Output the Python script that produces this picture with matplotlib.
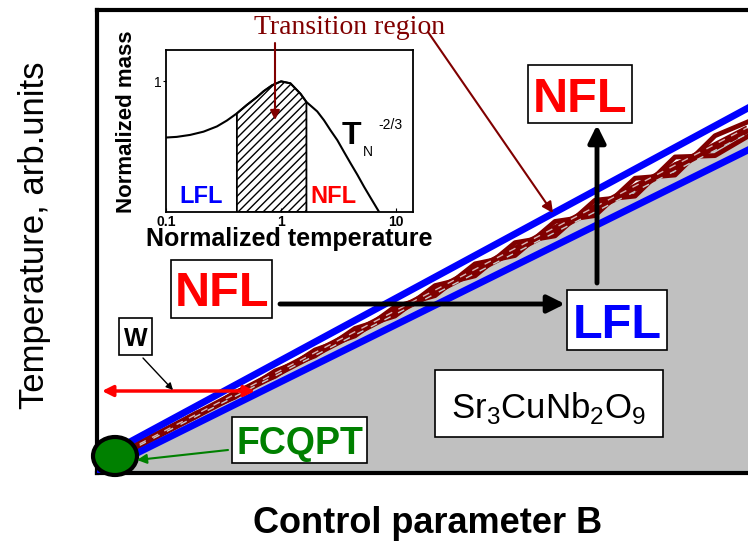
import matplotlib
matplotlib.use('Agg')
import matplotlib.pyplot as plt
from matplotlib.patches import Ellipse, Rectangle
import numpy as np

plt.rcParams['font.family'] = ['Liberation Sans', 'DejaVu Sans']
plt.rcParams['mathtext.fontset'] = 'custom'
plt.rcParams['mathtext.rm'] = 'Liberation Sans'
plt.rcParams['hatch.linewidth'] = 1.0

# phase diagram: crossover lines T(B) = t0 + slope * B (arb. units)
B_ends = [0, 633]
T_upper = [6, 348]
T_lower = [-8, 306]

# braided transition band, offsets as fraction of the half width
B_braid = [0, 40, 80, 120, 160, 200, 240, 280, 320, 360, 400, 440, 480, 520, 560, 600, 633]
braid_a = [0, 0.3, -0.25, 0.35, -0.3, 0.4, -0.35, 0.5, -0.4, 0.55, -0.45, 0.55, -0.5, 0.6, -0.5, 0.6, 0.4]
braid_b = [0, -0.3, 0.3, -0.35, 0.4, -0.3, 0.45, -0.4, 0.5, -0.45, 0.55, -0.5, 0.55, -0.55, 0.6, -0.55, -0.4]

# inset: normalized effective mass vs normalized temperature
temp_norm = [0.100, 0.124, 0.162, 0.212, 0.277, 0.338, 0.413, 0.505, 0.618, 0.706,
             0.835, 1.0, 1.205, 1.475, 1.66, 2.06, 2.36, 2.69, 3.08, 3.52,
             4.02, 4.60, 5.26, 6.01, 7.11]
mass_norm = [0.570, 0.575, 0.590, 0.615, 0.655, 0.700, 0.755, 0.820, 0.880, 0.925,
             0.970, 1.0, 0.985, 0.905, 0.842, 0.770, 0.702, 0.625, 0.55, 0.46,
             0.372, 0.285, 0.193, 0.107, 0.0]
hatch_lo, hatch_hi = 0.413, 1.66

blue = '#0000ff'
red = '#ff0000'
green = '#008000'
maroon = '#800000'

fig = plt.figure(figsize=(7.48, 5.45), dpi=100)
ax = fig.add_axes([97/748, 72/545, 660/748, 463/545])
ax.set_xlim(-18, 642)
ax.set_ylim(-17, 446)
ax.set_xticks([])
ax.set_yticks([])
for s in ['left', 'top', 'bottom']:
    ax.spines[s].set_linewidth(3)
ax.spines['right'].set_visible(False)

B = np.array(B_ends, dtype=float)
up = np.array(T_upper, dtype=float)
lo = np.array(T_lower, dtype=float)
slope_u = (up[1] - up[0]) / (B[1] - B[0])
slope_l = (lo[1] - lo[0]) / (B[1] - B[0])
Bf = np.array([-18.0, 642.0])
lo_f = lo[0] + slope_l * Bf
up_f = up[0] + slope_u * Bf
ax.fill_between(Bf, -17, lo_f, color='#c0c0c0', lw=0, zorder=1)
ax.axhline(-14.5, color='#80ffff', lw=0.8, zorder=1.5)

# band
Bb = np.array(B_braid, dtype=float)
mid = (up[0] + lo[0]) / 2 + (slope_u + slope_l) / 2 * Bb
half = (up[0] - lo[0]) / 2 + (slope_u - slope_l) / 2 * Bb - 3
ax.fill_between(Bb, mid - 1.2 * half, mid, color='#c8c8c8', lw=0, zorder=1.8)
ax.plot(Bb, mid, color=maroon, lw=5.5, zorder=2, solid_capstyle='butt')
ax.plot(Bb, mid + np.array(braid_a) * half, color=maroon, lw=3.5, zorder=2)
ax.plot(Bb, mid + np.array(braid_b) * half, color=maroon, lw=3.5, zorder=2)
ax.plot(Bb, mid + 0.3 * np.array(braid_b) * half, color=maroon, lw=2.5, zorder=2)
ax.plot(Bb, mid + 0.1 * half, color='white', lw=1, ls=(0, (5, 5)), zorder=2.2, alpha=0.7)
ax.plot(Bb, mid - 0.25 * half, color='#c8c8c8', lw=1, ls=(2, (5, 6)), zorder=2.2)
ax.plot(Bf, up_f, color=blue, lw=5, zorder=3)
ax.plot(Bf, lo_f, color=blue, lw=5, zorder=3)

# FCQPT point
ax.add_patch(Ellipse((0, 0), 44, 38, fc=green, ec='black', lw=3, zorder=6, clip_on=False))


def box(x0, y0, w, h, text, color, size, weight='bold'):
    ax.add_patch(Rectangle((x0, y0), w, h, fc='white', ec='black', lw=1.2, zorder=5))
    ax.text(x0 + w / 2, y0 + h / 2, text, color=color, fontsize=size, weight=weight,
            ha='center', va='center_baseline', zorder=6)


box(4, 101, 33, 37, 'W', 'black', 18)
box(117, -7, 135, 46, 'FCQPT', green, 27)
box(320, 19, 228, 67, r'Sr$_{3}$CuNb$_{2}$O$_{9}$', 'black', 25, 'normal')
box(452, 106, 100, 60, 'LFL', blue, 35)
box(413, 333, 104, 58, 'NFL', red, 35)
box(56, 138, 101, 58, 'NFL', red, 35)


def arrow(start, tip, color, lw, ms, style='-|>'):
    ax.annotate('', xy=tip, xytext=start, zorder=7,
                arrowprops=dict(arrowstyle=style, color=color, lw=lw, mutation_scale=ms,
                                shrinkA=0, shrinkB=0), annotation_clip=False)


arrow((-13, 65), (140, 65), red, 2.5, 16, '<|-|>')
arrow((28, 98), (58, 66), 'black', 1.0, 10)
arrow((113, 6), (22, -4), green, 1.5, 14)
arrow((165, 152), (450, 152), 'black', 3.5, 26)
arrow((482, 173), (482, 331), 'black', 3.5, 26)
arrow((313, 424), (438, 243), maroon, 1.5, 16)

ax.text(235, 428, 'Transition region', family=['Liberation Serif'], fontsize=20,
        color=maroon, ha='center', va='center')

fig.text(35/748, 0.569, 'Temperature, arb.units', rotation=90, fontsize=25,
         ha='center', va='center')
fig.text(0.571, 0.040, 'Control parameter B', fontsize=26, weight='bold',
         ha='center', va='center')

# inset
ins = fig.add_axes([166/748, 333/545, 247/748, 162/545])
ins.set_xscale('log')
ins.set_xlim(0.1, 14)
ins.set_ylim(0, 1.24)
ins.plot(temp_norm, mass_norm, color='black', lw=1.5)
tn = np.array(temp_norm)
mn = np.array(mass_norm)
sel = (tn >= hatch_lo) & (tn <= hatch_hi)
ins.fill_between(tn[sel], 0, mn[sel], facecolor='white', edgecolor='black',
                 hatch='////', lw=1.3)
ins.set_xticks([0.1, 1, 10])
ins.set_xticklabels(['0.1', '1', '10'], fontweight='bold')
ins.xaxis.set_minor_locator(matplotlib.ticker.NullLocator())
ins.set_yticks([1])
ins.set_yticklabels(['1'])
ins.tick_params(axis='x', direction='in', length=3, labelsize=10, pad=2)
ins.tick_params(axis='y', direction='out', length=2, labelsize=10, pad=1)
for s in ins.spines.values():
    s.set_linewidth(1.3)
ins.set_xlabel('Normalized temperature', fontsize=18, weight='bold', labelpad=-1)
ins.set_ylabel('Normalized mass', fontsize=16, weight='bold')
ins.yaxis.set_label_coords(-0.118, 0.56)
ins.text(0.142, 0.093, 'LFL', transform=ins.transAxes, color=blue, fontsize=17,
         weight='bold', ha='center', va='center')
ins.text(0.678, 0.093, 'NFL', transform=ins.transAxes, color=red, fontsize=17,
         weight='bold', ha='center', va='center')
ins.text(0.751, 0.469, 'T', transform=ins.transAxes, fontsize=23, weight='bold',
         ha='center', va='center')
ins.text(0.818, 0.37, 'N', transform=ins.transAxes, fontsize=10, ha='center', va='center')
ins.text(0.907, 0.537, '-2/3', transform=ins.transAxes, fontsize=10, ha='center', va='center')
ins.annotate('', xy=(160, 336), xytext=(160, 413), xycoords=ax.transData,
             textcoords=ax.transData, annotation_clip=False,
             arrowprops=dict(arrowstyle='-|>', color=maroon, lw=1.5, mutation_scale=14,
                             shrinkA=0, shrinkB=0))

fig.savefig('out.png', dpi=100)
